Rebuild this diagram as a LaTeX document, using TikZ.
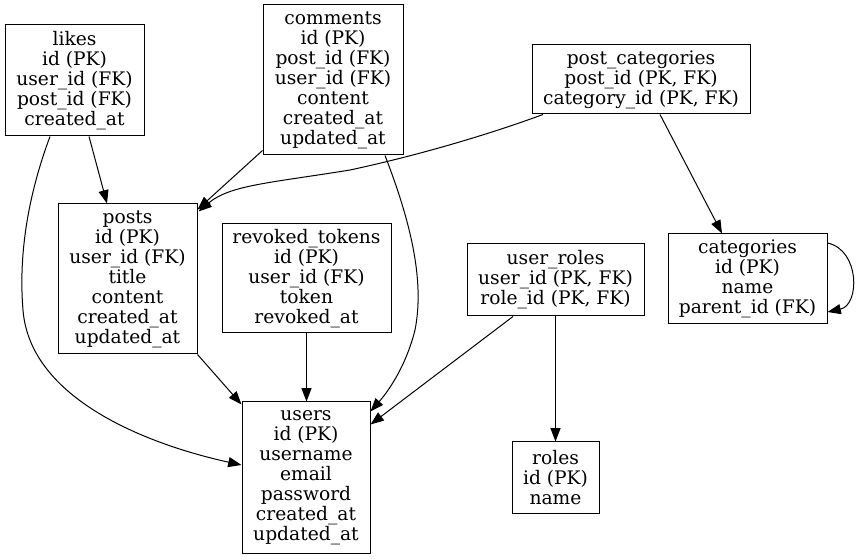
\documentclass[tikz,border=0pt]{standalone}
\usepackage{fontspec}
\setmainfont{DejaVu Serif}
\usetikzlibrary{arrows.meta,calc}
\begin{document}
\begin{tikzpicture}[x=0.75pt,y=-0.75pt,
  tbl/.style 2 args={draw, line width=0.75pt, rectangle, inner sep=0pt,
    minimum width=#1*0.75pt, minimum height=#2*0.75pt, align=center,
    font=\fontsize{14pt}{15pt}\selectfont},
  rel/.style={-{Triangle[length=10pt,width=7.5pt]}, line width=0.75pt}]
\useasboundingbox (0,0) rectangle (857,559);

\node[tbl={139}{111}] (likes) at (74.5,80.5) {likes\\id (PK)\\user\_id (FK)\\post\_id (FK)\\created\_at};
\node[tbl={140}{150}] (comments) at (333,80) {comments\\id (PK)\\post\_id (FK)\\user\_id (FK)\\content\\created\_at\\updated\_at};
\node[tbl={218}{69}] (postcat) at (641,79.5) {post\_categories\\post\_id (PK, FK)\\category\_id (PK, FK)};
\node[tbl={139}{150}] (posts) at (127.5,279) {posts\\id (PK)\\user\_id (FK)\\title\\content\\created\_at\\updated\_at};
\node[tbl={169}{109}] (revoked) at (306.5,278.5) {revoked\_tokens\\id (PK)\\user\_id (FK)\\token\\revoked\_at};
\node[tbl={177}{72}] (userroles) at (555.5,280) {user\_roles\\user\_id (PK, FK)\\role\_id (PK, FK)};
\node[tbl={159}{90}] (categories) at (747.5,279) {categories\\id (PK)\\name\\parent\_id (FK)};
\node[tbl={128}{151}] (users) at (306,477.5) {users\\id (PK)\\username\\email\\password\\created\_at\\updated\_at};
\node[tbl={87}{71}] (roles) at (555.5,477.5) {roles\\id (PK)\\name};

% likes -> posts
\draw[rel] ($(likes.south)+(14.5,0)$) -- ($(posts.north)+(-20.5,0)$);
% likes -> users
\draw[rel] ($(likes.south)+(-24.5,0)$) .. controls (30,190) and (18,250) .. (23,310)
  .. controls (30,400) and (150,445) .. ($(users.west)+(0,-12.5)$);
% comments -> posts
\draw[rel] ($(comments.south west)+(0,-5)$) -- ($(posts.north east)+(0,6)$);
% comments -> users
\draw[rel] ($(comments.south)+(52,0)$) .. controls (410,220) and (425,280) .. (415,330)
  .. controls (405,370) and (385,395) .. ($(users.north east)+(0,10)$);
% post_categories -> posts
\draw[rel] ($(postcat.south)+(-98,0)$) .. controls (490,134) and (420,155) .. (350,170)
  .. controls (270,183) and (230,185) .. ($(posts.north east)+(1,8)$);
% post_categories -> categories
\draw[rel] ($(postcat.south)+(19,0)$) -- ($(categories.north)+(-25.5,0)$);
% posts -> users
\draw[rel] (posts.south east) -- ($(users.north west)+(0,3)$);
% revoked_tokens -> users
\draw[rel] (revoked.south) -- (revoked.south |- users.north);
% user_roles -> users
\draw[rel] ($(userroles.south)+(-42.5,0)$) -- ($(users.north east)+(0,23)$);
% user_roles -> roles
\draw[rel] (userroles.south) -- (roles.north);
% categories self loop
\draw[rel] ($(categories.east)+(0,-36)$) .. controls (860,250) and (860,305) .. ($(categories.east)+(0,33)$);
\end{tikzpicture}
\end{document}
